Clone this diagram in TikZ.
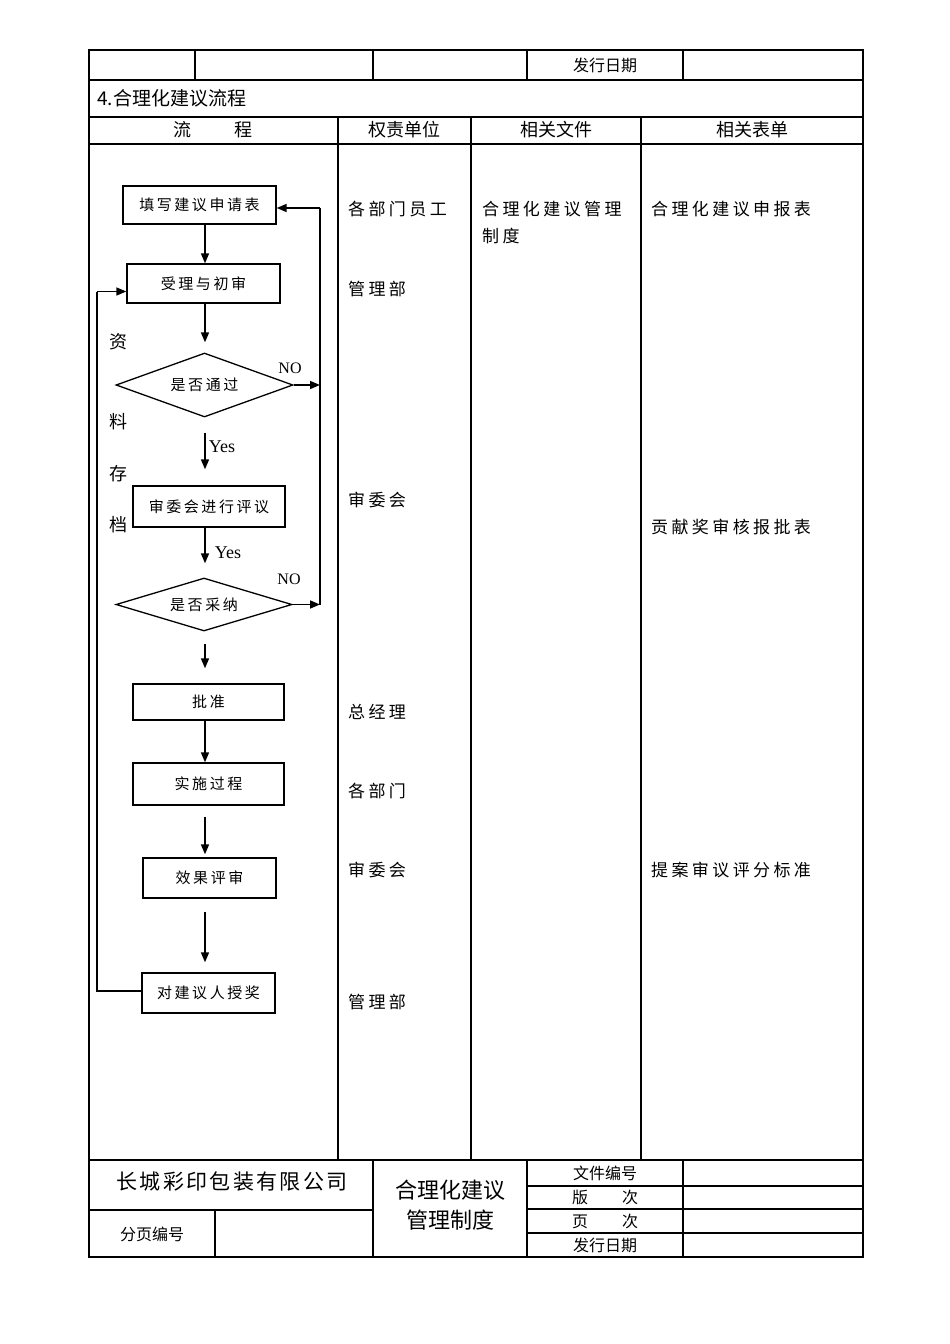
\documentclass[tikz,border=0pt]{standalone}
\usepackage{fontspec}
\setmainfont{Noto Sans CJK SC}
\newfontfamily\cjk{Noto Sans CJK SC}
\newfontfamily\cjksp[LetterSpace=20]{Noto Sans CJK SC}
\newfontfamily\cjkbx[LetterSpace=17]{Noto Sans CJK SC}
\newfontfamily\cjkco[LetterSpace=11]{Noto Sans CJK SC}
\newfontfamily\lat{Liberation Serif}
\usetikzlibrary{arrows.meta,shapes.geometric}
\tikzset{
  tbl/.style={line width=1.1pt,black},
  fbox/.style={draw,line width=1.3pt,rectangle,inner sep=0pt,font=\cjkbx\fontsize{15}{18}\selectfont},
  fdia/.style={draw,line width=1.3pt,diamond,shape aspect=3,inner sep=0pt,font=\cjkbx\fontsize{15}{18}\selectfont},
  ln/.style={line width=1.4pt},
  arr/.style={line width=1.6pt,-{Triangle[length=10pt,width=8pt]}},
  coltxt/.style={anchor=west,inner sep=0pt,font=\cjksp\fontsize{17}{20}\selectfont},
  hdr/.style={inner sep=0pt,font=\cjk\fontsize{18}{20}\selectfont},
  small/.style={inner sep=0pt,font=\cjk\fontsize{16}{18}\selectfont},
  lab/.style={inner sep=0pt,font=\lat\fontsize{16}{18}\selectfont},
  side/.style={inner sep=0pt,font=\cjk\fontsize{18}{20}\selectfont}
}
\begin{document}
\begin{tikzpicture}[x=1pt,y=-1pt]
\useasboundingbox (0,0) rectangle (950,1344);
\fill[white] (0,0) rectangle (950,1344);

% ---------- table ----------
\draw[tbl] (89,50) rectangle (863,1257);
\draw[tbl] (89,80) -- (863,80);
\draw[tbl] (89,117) -- (863,117);
\draw[tbl] (89,144) -- (863,144);
\draw[tbl] (89,1160) -- (863,1160);
\draw[tbl] (89,1210) -- (373,1210);
\draw[tbl] (527,1186) -- (863,1186);
\draw[tbl] (527,1209) -- (863,1209);
\draw[tbl] (527,1233) -- (863,1233);
\foreach \x in {195,373,527,683} \draw[tbl] (\x,50) -- (\x,80);
\foreach \x in {338,471,641} \draw[tbl] (\x,117) -- (\x,1160);
\foreach \x in {373,527,683} \draw[tbl] (\x,1160) -- (\x,1257);
\draw[tbl] (215,1210) -- (215,1257);

% ---------- table texts ----------
\node[small] (t0) at (605,65) {发行日期};
\node[anchor=west,inner sep=0pt,font=\cjk\fontsize{19}{21}\selectfont] (t1) at (97,98) {4.合理化建议流程};
\node[hdr] (h1) at (213,130) {流\hspace{43pt}程};
\node[hdr] (h2) at (404.5,130) {权责单位};
\node[hdr] (h3) at (556,130) {相关文件};
\node[hdr] (h4) at (752,130) {相关表单};

\node[coltxt] (u1) at (348,209) {各部门员工};
\node[coltxt] (u2) at (348,289) {管理部};
\node[coltxt] (u3) at (348,500) {审委会};
\node[coltxt] (u4) at (348,712) {总经理};
\node[coltxt] (u5) at (348,791) {各部门};
\node[coltxt] (u6) at (348,870) {审委会};
\node[coltxt] (u7) at (348,1002) {管理部};

\node[coltxt] (f1) at (482,209) {合理化建议管理};
\node[coltxt] (f2) at (482,236) {制度};

\node[coltxt] (r1) at (651,209) {合理化建议申报表};
\node[coltxt] (r2) at (651,527) {贡献奖审核报批表};
\node[coltxt] (r3) at (651,870) {提案审议评分标准};

\node[inner sep=0pt,font=\cjkco\fontsize{21}{24}\selectfont] (c1) at (232,1182) {长城彩印包装有限公司};
\node[small] (c2) at (152,1234) {分页编号};
\node[inner sep=0pt,font=\cjk\fontsize{22}{24}\selectfont] (c3) at (450,1190) {合理化建议};
\node[inner sep=0pt,font=\cjk\fontsize{22}{24}\selectfont] (c4) at (450,1220) {管理制度};
\node[small] (c5) at (605,1173) {文件编号};
\node[small] (c6) at (605,1197) {版\hspace{34pt}次};
\node[small] (c7) at (605,1221) {页\hspace{34pt}次};
\node[small] (c8) at (605,1245) {发行日期};

% ---------- flowchart ----------
\coordinate (axis) at (205,0);
\coordinate (rx) at (320,0);
\coordinate (lx) at (97,0);

\node[fbox,minimum width=153pt,minimum height=38pt] (b1) at (199.5,205) {填写建议申请表};
\node[fbox,minimum width=153pt,minimum height=39pt] (b2) at (203.5,283.5) {受理与初审};
\node[fdia,minimum width=177pt,minimum height=64pt] (d1) at (204.5,385) {是否通过};
\node[fbox,minimum width=152pt,minimum height=41pt] (b3) at (209,506.5) {审委会进行评议};
\node[fdia,minimum width=176pt,minimum height=53pt] (d2) at (204,604.5) {是否采纳};
\node[fbox,minimum width=151pt,minimum height=36pt] (b4) at (208.5,702) {批准};
\node[fbox,minimum width=151pt,minimum height=42pt] (b5) at (208.5,784) {实施过程};
\node[fbox,minimum width=133pt,minimum height=40pt] (b6) at (209.5,878) {效果评审};
\node[fbox,minimum width=133pt,minimum height=40pt] (b7) at (208.5,993) {对建议人授奖};

% down arrows
\draw[arr] (b1.south -| axis) -- (b2.north -| axis);
\draw[arr,shorten >=10pt] (b2.south -| axis) -- (d1.north -| axis);
\draw[arr,shorten <=15pt,shorten >=16pt] (d1.south -| axis) -- (b3.north -| axis);
\draw[arr,shorten >=14pt] (b3.south -| axis) -- (d2.north -| axis);
\draw[arr,shorten <=12pt,shorten >=15pt] (d2.south -| axis) -- (b4.north -| axis);
\draw[arr] (b4.south -| axis) -- (b5.north -| axis);
\draw[arr,shorten <=11pt,shorten >=3pt] (b5.south -| axis) -- (b6.north -| axis);
\draw[arr,shorten <=13pt,shorten >=10pt] (b6.south -| axis) -- (b7.north -| axis);

% right loop (NO)
\draw[arr] (d1.east) -- (rx |- d1.east);
\draw[arr] (d2.east) -- (rx |- d2.east);
\draw[ln] (rx |- d2.east) -- ([yshift=-3pt]rx |- b1.east);
\draw[arr] ([yshift=-3pt]rx |- b1.east) -- ([yshift=-3pt]b1.east);

% left loop
\draw[ln] ([yshift=2pt]b7.west) -- ([yshift=2pt]lx |- b7.west) -- ([yshift=-8pt]lx |- b2.west);
\draw[arr] ([yshift=-8pt]lx |- b2.west) -- ([yshift=-8pt]b2.west);

% labels
\node[lab] (no1) at (290,368) {NO};
\node[lab] (no2) at (289,579) {NO};
\node[lab,font=\lat\fontsize{18}{20}\selectfont] (y1) at (222,447) {Yes};
\node[lab,font=\lat\fontsize{18}{20}\selectfont] (y2) at (228,553) {Yes};

\node[side] (s1) at (118,342) {资};
\node[side] (s2) at (118,422) {料};
\node[side] (s3) at (118,474) {存};
\node[side] (s4) at (118,525) {档};
\end{tikzpicture}
\end{document}
